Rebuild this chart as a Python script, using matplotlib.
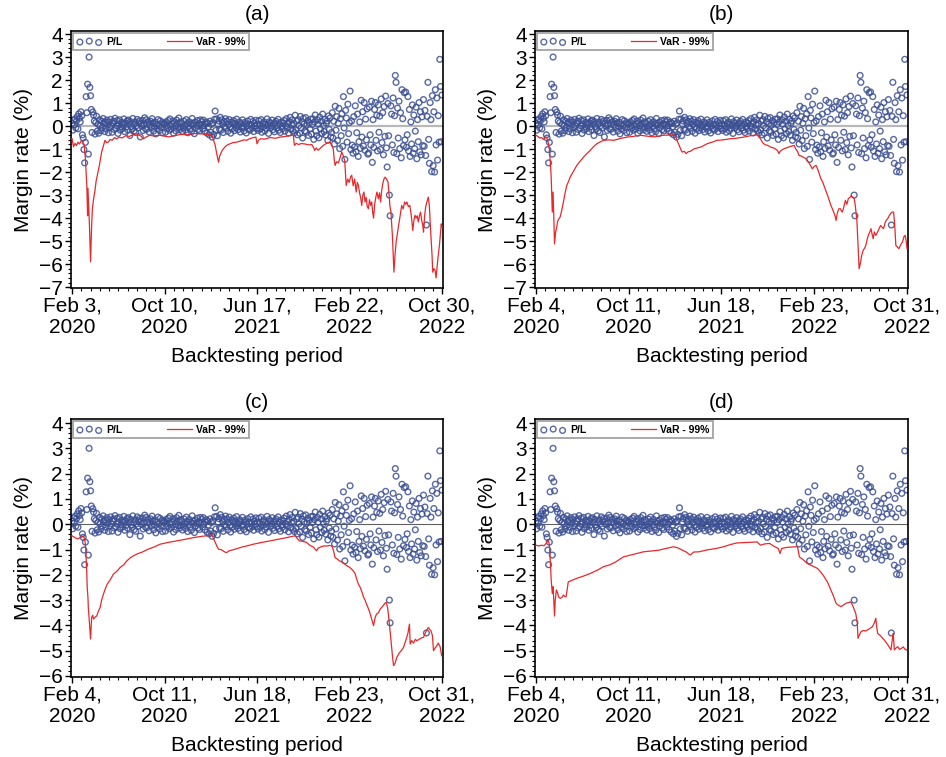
import numpy as np
import matplotlib
matplotlib.use("Agg")
import matplotlib.pyplot as plt
from matplotlib.ticker import MultipleLocator

plt.rcParams['font.family'] = ['Liberation Sans', 'DejaVu Sans']

# daily P/L (%), same sample in all four panels, evenly spread over the 1000-day window
pl_vals = [
    0.12, -0.18, 0.25, 0.05, 0.31, -0.08, 0.22, 0.41, -0.12, 0.53, 0.34, 0.18, 0.62, 0.45, -0.38, -0.52, -1.02, -1.6, -0.71, 1.28, 0.58, 1.82, -1.22, 3.0, 1.68,
    1.32, 0.72, -0.28, 0.61, 0.48, 0.22, -0.35, 0.15, 0.43, -0.22, 0.08, -0.31, 0.27, 0.02, -0.19, 0.21, -0.07, 0.33, 0.11, -0.24, 0.17, -0.12, 0.26, 0.04, -0.29,
    0.18, -0.06, 0.29, 0.03, -0.27, 0.12, 0.21, -0.15, 0.34, -0.09, 0.01, 0.24, -0.32, 0.09, 0.27, -0.18, -0.02, 0.16, -0.11, 0.07, 0.31, -0.24, 0.13, -0.04, 0.22,
    -0.16, 0.26, 0.08, -0.41, 0.19, -0.03, -0.13, 0.33, 0.06, -0.21, 0.17, -0.28, 0.02, 0.29, -0.08, 0.14, 0.23, -0.47, 0.11, -0.01, 0.25, -0.19, 0.05, 0.36, -0.12,
    0.27, -0.14, 0.09, 0.18, -0.26, 0.04, 0.21, -0.07, 0.32, 0.13, -0.22, -0.02, 0.17, -0.34, 0.08, -0.11, 0.28, 0.01, -0.19, 0.23, -0.05, 0.15, -0.29, 0.11, 0.06,
    0.12, -0.27, 0.19, 0.03, -0.09, 0.24, -0.18, 0.31, -0.02, -0.13, 0.07, 0.22, -0.31, 0.14, 0.01, -0.21, 0.26, 0.09, -0.06, 0.35, -0.16, 0.18, -0.04, 0.1, -0.23,
    -0.08, 0.21, 0.02, -0.17, 0.28, 0.11, -0.29, -0.01, 0.19, -0.12, 0.08, -0.24, 0.33, 0.04, 0.13, -0.33, 0.17, -0.07, 0.03, 0.24, -0.15, 0.1, -0.21, 0.27, 0.05,
    0.19, -0.11, 0.26, 0.02, -0.22, 0.09, 0.18, -0.31, 0.12, -0.03, -0.38, 0.21, -0.27, 0.07, -0.48, 0.14, -0.36, 0.29, 0.65, -0.19, 0.31, -0.42, 0.08, 0.22, -0.15,
    0.38, -0.18, 0.27, 0.12, -0.28, 0.19, -0.01, 0.32, -0.09, 0.21, -0.23, 0.06, 0.28, -0.04, -0.31, 0.17, -0.12, 0.09, 0.24, -0.2, 0.13, -0.07, 0.3, 0.02, -0.16,
    0.03, 0.18, -0.26, 0.11, -0.08, 0.27, -0.02, -0.21, 0.16, 0.09, -0.3, 0.01, 0.22, -0.13, 0.07, -0.18, 0.29, 0.04, -0.09, 0.2, -0.24, 0.12, 0.0, 0.25, -0.11,
    0.09, -0.19, 0.23, 0.02, -0.12, 0.28, -0.27, 0.11, -0.03, 0.18, -0.21, 0.07, -0.1, 0.31, 0.04, -0.32, 0.19, 0.12, -0.07, 0.01, 0.26, -0.16, 0.08, -0.25, 0.14,
    0.21, -0.09, 0.03, 0.29, -0.18, 0.08, -0.28, 0.17, -0.02, -0.11, 0.13, 0.24, -0.22, 0.01, 0.32, -0.07, 0.1, -0.3, 0.19, 0.38, -0.14, 0.06, 0.27, -0.2, 0.11,
    -0.29, 0.47, -0.17, 0.21, -0.38, 0.28, 0.02, -0.31, 0.42, -0.08, 0.19, -0.52, 0.33, 0.09, -0.21, 0.37, -0.27, 0.04, 0.23, -0.41, 0.15, -0.12, 0.3, -0.35, 0.06,
    0.31, -0.58, 0.18, 0.48, -0.22, -0.42, 0.27, 0.08, -0.51, 0.39, -0.12, 0.21, -0.33, 0.52, 0.02, -0.24, 0.29, -0.39, 0.12, 0.22, -0.62, 0.44, -0.15, 0.35, -0.47,
    -0.28, 0.58, -0.52, 0.21, -0.78, 0.86, -0.18, 0.41, -0.63, 0.12, 0.77, -0.98, 0.32, -0.42, 0.53, -0.88, 1.28, -0.08, -1.45, 0.68, 0.35, -0.7, 0.95, -0.33, 0.15,
    1.52, -1.02, 0.22, -0.83, -1.18, 0.41, -0.91, 0.88, -1.12, -0.29, 0.52, -1.32, -0.68, 0.18, -0.97, 1.12, -0.48, 0.62, -0.87, 1.02, -1.05, 0.3, -0.6, 0.75, -1.22,
    -1.17, 0.82, -0.38, -0.82, 1.08, -1.58, 0.28, -0.93, 0.72, 1.02, -0.62, 0.47, -1.08, 0.92, -0.27, 0.43, -1.02, 1.18, -0.72, 0.58, -1.25, 0.85, -0.45, 1.3, -0.95,
    -1.78, 0.98, -0.42, -3.0, -3.9, 0.88, 0.52, -0.82, 1.22, -1.15, 0.45, 2.2, 1.9, -1.2, 0.78, -0.52, 1.08, -0.98, 0.58, -1.38, 1.58, 0.32, -0.85, 1.45, -0.6,
    1.48, -0.92, -0.38, 1.28, -1.08, 0.72, -1.32, 0.18, -0.78, 0.92, -1.18, 0.48, -0.98, -0.22, 0.82, -1.42, 0.28, -0.68, 1.02, -1.12, 0.62, -1.25, 0.4, -0.85, 1.15,
    -0.88, 0.68, -1.28, -4.3, 0.42, 1.9, -0.58, -1.62, 1.02, 0.28, -1.98, 1.32, -1.72, 0.62, -2.0, 1.58, -0.82, 1.22, -1.48, 0.45, -0.7, 2.9, 1.72, -0.68, 1.35,
]

# 99% VaR, (day, value)
var_a = [
    (0, -0.55), (4, -0.9), (8, -0.75), (12, -0.85), (16, -0.7), (20, -0.78), (26, -0.62), (30, -0.72), (33, -0.84),
    (36, -1.4), (38, -2.0), (40, -2.6), (42, -3.9), (43, -2.7), (45, -3.5), (47, -4.3), (50, -5.9), (53, -4.3),
    (55, -3.6), (58, -3.2), (62, -2.8), (65, -2.4), (70, -2.0), (74, -1.7), (77, -1.4), (80, -1.13), (84, -0.9),
    (89, -0.62), (93, -0.72), (98, -0.7), (103, -0.58), (108, -0.62), (115, -0.5), (120, -0.56), (128, -0.48),
    (135, -0.52), (145, -0.42), (155, -0.45), (165, -0.38), (175, -0.33), (185, -0.42), (193, -0.55), (200, -0.48),
    (210, -0.4), (220, -0.43), (238, -0.4), (250, -0.44), (262, -0.47), (275, -0.42), (283, -0.4), (295, -0.36),
    (310, -0.38), (325, -0.33), (346, -0.33), (360, -0.36), (372, -0.38), (378, -0.4), (382, -0.6), (387, -0.84),
    (391, -1.2), (396, -1.57), (399, -1.3), (402, -1.2), (406, -1.05), (409, -0.99), (415, -0.88), (420, -0.82),
    (427, -0.77), (435, -0.72), (445, -0.7), (455, -0.65), (465, -0.6), (472, -0.62), (480, -0.55), (490, -0.5),
    (497, -0.48), (500, -0.77), (504, -0.62), (510, -0.55), (520, -0.57), (535, -0.5), (550, -0.53), (562, -0.48),
    (575, -0.45), (590, -0.42), (598, -0.38), (601, -0.84), (606, -0.75), (612, -0.8), (620, -0.76), (630, -0.78),
    (640, -0.82), (648, -0.8), (652, -0.91), (656, -1.06), (660, -0.95), (665, -1.05), (670, -0.98), (675, -0.9),
    (679, -0.84), (685, -0.78), (690, -0.72), (697, -0.7), (702, -0.85), (706, -0.99), (709, -1.5), (711, -1.71),
    (715, -1.55), (720, -1.6), (724, -1.4), (729, -1.13), (733, -1.28), (737, -1.5), (741, -2.58), (745, -2.3),
    (749, -2.45), (753, -2.2), (756, -2.14), (760, -2.6), (764, -2.3), (768, -2.87), (771, -2.45), (774, -2.58),
    (777, -2.9), (780, -3.1), (783, -3.45), (786, -3.0), (789, -2.87), (792, -3.3), (795, -3.1), (798, -3.5),
    (801, -3.59), (804, -3.2), (807, -3.45), (810, -3.3), (813, -3.8), (815, -4.0), (818, -3.4), (821, -3.1),
    (824, -2.87), (828, -3.16), (831, -2.9), (834, -3.3), (837, -2.8), (840, -2.5), (843, -2.3), (846, -2.22),
    (850, -2.3), (854, -2.43), (857, -3.0), (859, -3.45), (862, -3.74), (866, -4.8), (870, -6.35), (873, -5.6),
    (876, -5.04), (880, -4.6), (884, -4.2), (887, -3.88), (891, -3.45), (895, -3.6), (899, -3.3), (902, -3.4),
    (905, -3.3), (909, -3.5), (913, -3.45), (917, -3.9), (921, -4.54), (924, -4.1), (927, -3.88), (930, -4.0),
    (933, -3.9), (936, -4.17), (939, -3.9), (942, -3.74), (945, -4.1), (948, -4.3), (950, -4.61), (953, -3.9),
    (956, -3.5), (959, -3.3), (963, -3.09), (966, -3.5), (968, -4.2), (970, -4.75), (973, -5.6), (975, -6.35),
    (978, -6.2), (981, -6.25), (984, -6.6), (987, -6.06), (990, -5.6), (993, -5.19), (996, -4.6), (998, -4.25),
    (1000, -4.4),
]

var_b = [
    (0, -0.4), (5, -0.45), (10, -0.52), (15, -0.5), (20, -0.58), (25, -0.5), (28, -0.48), (31, -0.6), (33, -0.7),
    (36, -1.0), (38, -1.42), (41, -2.2), (42, -2.72), (44, -3.74), (46, -2.87), (48, -3.9), (50, -5.12), (53, -4.6),
    (56, -4.4), (58, -4.17), (61, -4.05), (65, -3.96), (69, -3.7), (74, -3.3), (78, -2.95), (83, -2.58), (88, -2.4),
    (92, -2.22), (100, -2.0), (110, -1.71), (118, -1.55), (128, -1.35), (137, -1.2), (146, -1.06), (155, -0.9),
    (164, -0.77), (172, -0.7), (182, -0.62), (195, -0.6), (210, -0.62), (225, -0.55), (245, -0.48), (262, -0.45),
    (281, -0.4), (300, -0.44), (320, -0.47), (335, -0.42), (344, -0.4), (360, -0.39), (371, -0.38), (376, -0.45),
    (380, -0.62), (385, -0.8), (390, -1.0), (394, -1.13), (400, -1.1), (405, -1.2), (410, -1.12), (416, -1.1),
    (425, -1.0), (435, -0.95), (445, -0.91), (461, -0.77), (475, -0.7), (488, -0.62), (505, -0.6), (524, -0.55),
    (540, -0.53), (560, -0.48), (578, -0.42), (596, -0.38), (601, -0.48), (605, -0.55), (610, -0.7), (614, -0.77),
    (620, -0.82), (626, -0.85), (632, -0.91), (640, -0.95), (646, -1.0), (651, -1.06), (655, -1.2), (658, -1.1),
    (662, -1.05), (668, -0.99), (675, -0.95), (683, -0.9), (690, -0.87), (696, -0.84), (700, -0.99), (705, -1.1),
    (709, -1.28), (715, -1.3), (720, -1.35), (726, -1.4), (731, -1.49), (736, -1.6), (741, -1.75), (745, -1.86),
    (750, -1.75), (755, -1.71), (760, -1.9), (764, -2.1), (768, -2.29), (772, -2.4), (776, -2.58), (780, -2.75),
    (786, -3.01), (790, -3.2), (795, -3.45), (799, -3.6), (804, -3.81), (807, -3.95), (809, -4.1), (812, -3.8),
    (816, -3.6), (820, -3.59), (824, -3.7), (826, -3.74), (830, -3.5), (834, -3.23), (838, -3.4), (842, -3.15),
    (846, -3.1), (849, -3.04), (853, -3.08), (858, -3.16), (861, -3.5), (865, -4.1), (868, -5.2), (871, -6.2),
    (874, -6.0), (878, -5.62), (882, -5.4), (886, -5.3), (889, -5.19), (893, -4.9), (897, -4.7), (900, -4.6),
    (903, -4.46), (906, -4.7), (909, -4.9), (912, -4.6), (916, -4.75), (921, -4.6), (925, -4.45), (929, -4.32),
    (933, -4.4), (937, -4.46), (941, -4.2), (944, -4.1), (948, -4.03), (952, -3.9), (956, -3.8), (960, -3.74),
    (964, -3.74), (967, -4.3), (970, -5.19), (974, -5.25), (978, -5.33), (982, -5.2), (985, -5.1), (988, -5.04),
    (992, -4.8), (995, -4.75), (998, -5.0), (1000, -5.33),
]

var_c = [
    (0, -0.46), (5, -0.5), (10, -0.55), (15, -0.58), (22, -0.53), (27, -0.5), (30, -0.46), (33, -0.55), (35, -0.66),
    (37, -1.0), (38, -1.32), (40, -2.0), (41, -2.5), (43, -2.9), (44, -3.29), (46, -3.68), (48, -4.1), (50, -4.54),
    (52, -4.0), (53, -3.68), (56, -3.6), (58, -3.75), (62, -3.68), (67, -3.62), (71, -3.45), (76, -3.29),
    (80, -3.0), (85, -2.76), (90, -2.55), (95, -2.37), (103, -2.2), (112, -1.97), (122, -1.85), (130, -1.71),
    (140, -1.6), (148, -1.45), (160, -1.3), (175, -1.18), (190, -1.1), (205, -0.99), (222, -0.9), (238, -0.79),
    (260, -0.72), (283, -0.66), (305, -0.6), (328, -0.53), (350, -0.48), (368, -0.45), (378, -0.42), (382, -0.55),
    (387, -0.72), (391, -0.85), (396, -0.99), (402, -1.0), (408, -1.05), (413, -1.1), (418, -1.12), (425, -1.05),
    (440, -0.99), (460, -0.9), (475, -0.85), (490, -0.79), (510, -0.73), (535, -0.66), (558, -0.6), (580, -0.53),
    (595, -0.48), (603, -0.46), (608, -0.55), (615, -0.66), (625, -0.68), (634, -0.72), (640, -0.8), (646, -0.86),
    (652, -0.9), (657, -0.98), (661, -1.05), (665, -0.95), (672, -0.9), (680, -0.86), (690, -0.86), (696, -0.84),
    (702, -0.86), (706, -1.0), (711, -1.32), (717, -1.38), (723, -1.45), (730, -1.5), (736, -1.55), (742, -1.64),
    (748, -1.68), (754, -1.75), (760, -1.84), (765, -1.95), (770, -2.2), (774, -2.37), (779, -2.5), (784, -2.7),
    (788, -2.89), (792, -3.0), (796, -3.16), (800, -3.3), (805, -3.5), (810, -3.75), (815, -4.01), (819, -3.7),
    (823, -3.55), (828, -3.5), (833, -3.35), (837, -3.29), (842, -3.2), (846, -3.12), (849, -3.09), (853, -3.3),
    (857, -3.82), (862, -4.6), (866, -5.2), (869, -5.59), (873, -5.5), (878, -5.26), (884, -5.1), (890, -5.0),
    (896, -4.87), (902, -4.6), (908, -4.3), (912, -3.95), (914, -4.74), (918, -4.6), (923, -4.7), (928, -4.55),
    (932, -4.61), (938, -4.55), (944, -4.5), (950, -4.47), (955, -4.3), (960, -4.15), (963, -4.08), (966, -4.15),
    (970, -4.21), (974, -4.4), (977, -5.0), (981, -4.9), (986, -4.8), (990, -4.7), (995, -4.85), (999, -5.2),
]

var_d = [
    (0, -0.83), (8, -0.86), (15, -0.83), (22, -0.85), (28, -0.75), (33, -0.63), (36, -0.8), (39, -1.55), (41, -2.2),
    (44, -2.74), (46, -2.47), (48, -3.0), (50, -3.63), (52, -3.0), (55, -2.6), (58, -2.7), (61, -2.87), (65, -2.93),
    (70, -2.9), (74, -2.8), (78, -2.86), (81, -2.87), (84, -2.6), (87, -2.28), (100, -2.2), (110, -2.14),
    (128, -2.05), (146, -1.95), (165, -1.82), (182, -1.68), (200, -1.6), (215, -1.49), (236, -1.29), (260, -1.2),
    (290, -1.09), (310, -1.06), (330, -1.03), (350, -0.96), (371, -0.89), (385, -0.95), (395, -1.03), (405, -1.1),
    (412, -1.18), (416, -1.22), (425, -1.1), (440, -1.09), (460, -1.02), (485, -0.96), (506, -0.89), (525, -0.8),
    (542, -0.74), (570, -0.72), (596, -0.7), (605, -0.83), (616, -0.78), (630, -0.76), (640, -0.86), (653, -0.96),
    (658, -1.16), (662, -0.96), (675, -0.92), (690, -0.9), (705, -0.89), (710, -1.29), (720, -1.4), (731, -1.55),
    (745, -1.65), (759, -1.75), (768, -1.9), (777, -2.08), (786, -2.3), (795, -2.6), (802, -2.85), (809, -3.13),
    (815, -3.2), (822, -3.26), (828, -3.2), (835, -3.13), (842, -3.1), (849, -3.07), (856, -3.3), (862, -3.53),
    (866, -3.9), (868, -4.51), (871, -4.4), (876, -4.25), (882, -4.2), (888, -4.22), (894, -4.18), (900, -4.12),
    (907, -4.05), (912, -3.9), (916, -3.72), (918, -4.0), (921, -4.32), (928, -4.4), (934, -4.5), (939, -4.58),
    (945, -4.7), (950, -4.8), (954, -4.9), (957, -4.97), (961, -4.5), (963, -4.32), (966, -4.97), (970, -4.9),
    (975, -4.84), (980, -4.95), (985, -4.91), (990, -4.85), (995, -4.95), (999, -4.97),
]

tick_days = [0, 250, 500, 750, 1000]
labels_a = ["Feb 3,\n2020", "Oct 10,\n2020", "Jun 17,\n2021", "Feb 22,\n2022", "Oct 30,\n2022"]
labels_bcd = ["Feb 4,\n2020", "Oct 11,\n2020", "Jun 18,\n2021", "Feb 23,\n2022", "Oct 31,\n2022"]

PL_COLOR = "#3b4f93"
VAR_COLOR = "#e8282b"


def panel(ax, var, xlabels, ylim, title, zero_color, zero_lw):
    x = np.linspace(0, 1000, len(pl_vals))
    ax.axhline(0, color=zero_color, lw=zero_lw, zorder=1)
    ax.scatter(x, pl_vals, s=17, facecolors="none", edgecolors=PL_COLOR,
               linewidths=1.0, alpha=0.85, zorder=2, label="P/L")
    d, v = zip(*var)
    ax.plot(d, v, color=VAR_COLOR, lw=0.9, zorder=3, label="VaR - 99%")

    ax.set_xlim(-2.7, 1002.7)
    ax.set_ylim(*ylim)
    ax.set_xticks(tick_days)
    ax.set_xticklabels(xlabels)
    ax.xaxis.set_minor_locator(MultipleLocator(25))
    ax.yaxis.set_major_locator(MultipleLocator(1))
    ax.yaxis.set_minor_locator(MultipleLocator(0.2))
    ax.tick_params(which="major", direction="out", length=4, width=1, labelsize=15, pad=2)
    ax.tick_params(which="minor", direction="out", length=2.2, width=0.8)
    for s in ax.spines.values():
        s.set_linewidth(1.2)
    ax.set_xlabel("Backtesting period", fontsize=15, labelpad=7)
    ax.set_ylabel("Margin rate (%)", fontsize=15, labelpad=4)
    ax.set_title(title, fontsize=15, pad=8)
    leg = ax.legend(loc="upper left", ncol=2, scatterpoints=3,
                    prop={"size": 7.5, "weight": "bold"}, frameon=True, fancybox=False,
                    borderaxespad=0.2, handlelength=2.4, columnspacing=4.3,
                    handletextpad=0.4, borderpad=0.35)
    leg.get_frame().set_edgecolor("#8c8c8c")
    leg.get_frame().set_linewidth(1.3)


fig = plt.figure(figsize=(9.46, 7.57), dpi=100)
ax_a = fig.add_axes([0.0751, 0.6195, 0.3932, 0.3395])
ax_b = fig.add_axes([0.5655, 0.6195, 0.3943, 0.3395])
ax_c = fig.add_axes([0.0751, 0.1057, 0.3932, 0.3408])
ax_d = fig.add_axes([0.5655, 0.1057, 0.3943, 0.3408])

panel(ax_a, var_a, labels_a, (-7.04, 4.13), "(a)", "#b8b8b8", 1.6)
panel(ax_b, var_b, labels_bcd, (-7.04, 4.13), "(b)", "#b8b8b8", 1.6)
panel(ax_c, var_c, labels_bcd, (-6.04, 4.16), "(c)", "#606060", 0.8)
panel(ax_d, var_d, labels_bcd, (-6.04, 4.16), "(d)", "#606060", 0.8)

fig.savefig("out.png", dpi=100)
